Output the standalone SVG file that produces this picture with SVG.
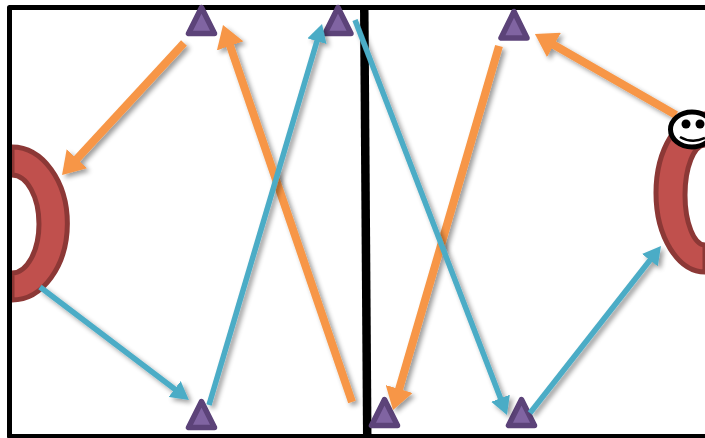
<svg xmlns="http://www.w3.org/2000/svg" width="705" height="438" viewBox="0 0 705 438">
<style>
.frame{fill:none;stroke:#000;stroke-width:5;stroke-linejoin:round}
.div{fill:#000;stroke:none}
.ring{fill:#c0504d;stroke:#8c3836;stroke-width:5;stroke-linejoin:round}
.tri{fill:#8064a2;stroke:#5c4379;stroke-width:5.500;stroke-linejoin:round}
.o{fill:none;stroke:#f79646;stroke-width:8;marker-end:url(#ho);filter:url(#sh)}
.b{fill:none;stroke:#4bacc6;stroke-width:5.500;marker-end:url(#hb);filter:url(#sh)}
</style>
<defs>
<filter id="sh" filterUnits="userSpaceOnUse" x="0" y="0" width="705" height="438">
<feGaussianBlur in="SourceAlpha" stdDeviation="2.500"/>
<feOffset dx="3" dy="3"/>
<feComponentTransfer><feFuncA type="linear" slope="0.4"/></feComponentTransfer>
<feMerge><feMergeNode/><feMergeNode in="SourceGraphic"/></feMerge>
</filter>
<marker id="ho" markerUnits="userSpaceOnUse" markerWidth="24" markerHeight="28" refX="6" refY="14" orient="auto"><path d="M0,0L22,14L0,28Z" fill="#f79646"/></marker>
<marker id="hb" markerUnits="userSpaceOnUse" markerWidth="18" markerHeight="20" refX="7" refY="10" orient="auto"><path d="M0,0L18,10L0,20Z" fill="#4bacc6"/></marker>
</defs>
<rect width="705" height="438" fill="#fff"/>
<g id="ring-left"><path class="ring" d="M12,147A55,76 0 0 1 12,300V273A27,49 0 0 0 12,175Z"/></g>
<g id="ring-right"><path class="ring" d="M705,114A49,79 0 0 0 705,272V245A20,50 0 0 1 705,145Z"/></g>
<g id="frame">
<path class="frame" d="M705,7.500H9.500V436.500H705"/>
<path class="div" d="M360,8H368.500L371.500,436H363Z"/>
</g>
<g id="tri-top-1"><path class="tri" d="M201.500,7.500L188.500,33.500H214.500Z"/></g>
<g id="tri-top-2"><path class="tri" d="M338,7.500L325,33.500H351Z"/></g>
<g id="tri-top-3"><path class="tri" d="M514,11.500L501,38H527Z"/></g>
<g id="tri-bottom-1"><path class="tri" d="M201.500,401.500L188.500,427.500H214.500Z"/></g>
<g id="tri-bottom-2"><path class="tri" d="M384.500,399.500L371.500,425.500H397.500Z"/></g>
<g id="tri-bottom-3"><path class="tri" d="M521.500,399.500L508.500,425.500H534.500Z"/></g>
<g id="connectors">
<path class="o" d="M184,43L72.900,163.200"/>
<path class="o" d="M352,402L228.200,40.200"/>
<path class="o" d="M676,115L548.800,42"/>
<path class="o" d="M499,46L397.500,394.700"/>
<path class="b" d="M40,287L180.200,393.300"/>
<path class="b" d="M209,405L318.900,34.500"/>
<path class="b" d="M355,20L503,404.800"/>
<path class="b" d="M530,413L654.200,254.700"/>
</g>
<g id="smiley">
<ellipse cx="692" cy="129.500" rx="21.500" ry="17.500" fill="#fff" stroke="#000" stroke-width="5"/>
<circle cx="686" cy="124" r="4.500"/>
<circle cx="700" cy="124" r="4.500"/>
<path d="M680,137Q692,144 705,138" fill="none" stroke="#000" stroke-width="2.500"/>
</g>
</svg>
